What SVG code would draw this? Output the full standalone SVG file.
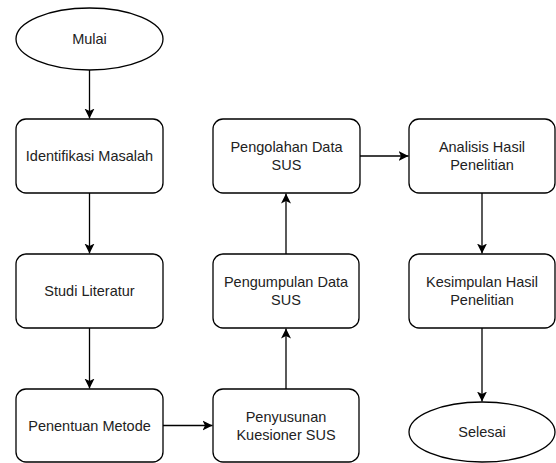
<svg xmlns="http://www.w3.org/2000/svg" width="556" height="463" viewBox="0 0 556 463">
<style>
.n{fill:#ffffff;stroke:#000000;stroke-width:1.3}
.t{font-family:"Liberation Sans",Arial,sans-serif;font-size:14.5px;fill:#222222;text-anchor:middle}
.c{fill:none;stroke:#000000;stroke-width:1.3;marker-end:url(#a)}
</style>
<defs>
<marker id="a" markerUnits="userSpaceOnUse" markerWidth="12" markerHeight="12" refX="10" refY="5.5" orient="auto">
<path d="M0,0.5 L10,5.5 L0,10.5 L2.5,5.5 z" fill="#000000"/>
</marker>
</defs>
<rect width="556" height="463" fill="#ffffff"/>
<g id="connectors">
<line class="c" x1="89.5" y1="70" x2="89.5" y2="118.5"/>
<line class="c" x1="89.5" y1="193" x2="89.5" y2="253.5"/>
<line class="c" x1="89.5" y1="328" x2="89.5" y2="388.5"/>
<line class="c" x1="163" y1="425.5" x2="212.5" y2="425.5"/>
<line class="c" x1="286" y1="389" x2="286" y2="328.5"/>
<line class="c" x1="286" y1="254" x2="286" y2="193.5"/>
<line class="c" x1="360" y1="156" x2="408.5" y2="156"/>
<line class="c" x1="482" y1="193" x2="482" y2="253.5"/>
<line class="c" x1="482" y1="328" x2="482" y2="401.5"/>
</g>
<g id="mulai">
<ellipse class="n" cx="89.5" cy="39" rx="73.5" ry="31"/>
<text class="t" x="89.5" y="44">Mulai</text>
</g>
<g id="identifikasi">
<rect class="n" x="16" y="119" width="147" height="74" rx="10"/>
<text class="t" x="89.5" y="161">Identifikasi Masalah</text>
</g>
<g id="studi">
<rect class="n" x="16" y="254" width="147" height="74" rx="10"/>
<text class="t" x="89.5" y="296">Studi Literatur</text>
</g>
<g id="penentuan">
<rect class="n" x="16" y="389" width="147" height="73" rx="10"/>
<text class="t" x="89.5" y="431">Penentuan Metode</text>
</g>
<g id="penyusunan">
<rect class="n" x="213" y="389" width="146" height="73" rx="10"/>
<text class="t" x="286" y="422">Penyusunan</text>
<text class="t" x="286" y="440">Kuesioner SUS</text>
</g>
<g id="pengumpulan">
<rect class="n" x="213" y="254" width="146" height="74" rx="10"/>
<text class="t" x="286" y="287">Pengumpulan Data</text>
<text class="t" x="286" y="305">SUS</text>
</g>
<g id="pengolahan">
<rect class="n" x="213" y="119" width="147" height="74" rx="10"/>
<text class="t" x="286.5" y="152">Pengolahan Data</text>
<text class="t" x="286.5" y="170">SUS</text>
</g>
<g id="analisis">
<rect class="n" x="409" y="119" width="146" height="74" rx="10"/>
<text class="t" x="482" y="152">Analisis Hasil</text>
<text class="t" x="482" y="170">Penelitian</text>
</g>
<g id="kesimpulan">
<rect class="n" x="409" y="254" width="146" height="74" rx="10"/>
<text class="t" x="482" y="287">Kesimpulan Hasil</text>
<text class="t" x="482" y="305">Penelitian</text>
</g>
<g id="selesai">
<ellipse class="n" cx="482" cy="432" rx="73" ry="30"/>
<text class="t" x="482" y="437">Selesai</text>
</g>
</svg>
